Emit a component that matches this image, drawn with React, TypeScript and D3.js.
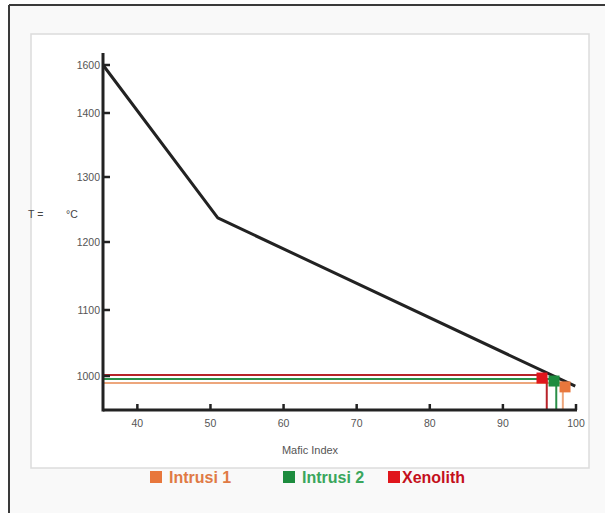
import React from "react";
import * as d3 from "d3";

// ---- data ----
const xTicks = [40, 50, 60, 70, 80, 90, 100];
const yTicks = [1000, 1100, 1200, 1300, 1400, 1600];
// axis is drawn hand-spaced in the original: piecewise breakpoints
const yBreakValues = [950, 1000, 1100, 1200, 1300, 1400, 1600, 1650];
const curveMI = [35.3, 51, 99.9];
const curveT = [1600, 1237, 985];
const sampleNames = ["Intrusi 1", "Intrusi 2", "Xenolith"];
const sampleColors = ["#e8773c", "#1d8c3e", "#e0161c"];
const lineColors = ["#eda67c", "#2a8f48", "#b8232a"];
const legendTextColors = ["#e07a45", "#3aa65c", "#c4101c"];
const readMI = [98.2, 97.3, 96.0];
const readT = [989.7, 995.6, 1001.5];
const markerMI = [98.5, 97.0, 95.35];
const markerT = [984, 992.6, 997];

const W = 605;
const H = 513;

export default function App() {
  const x = d3.scaleLinear().domain([35.3, 100]).range([103, 576]);
  const y = d3
    .scaleLinear()
    .domain(yBreakValues)
    .range([410, 376, 310, 242, 177, 113, 65, 53]);

  const pts: [number, number][] = curveMI.map((m, i) => [m, curveT[i]]);
  const line = d3
    .line<[number, number]>()
    .x((d) => x(d[0]))
    .y((d) => y(d[1]));

  const font = "'Liberation Sans', Arial, sans-serif";
  const y0 = y(950);
  const x0 = x(35.3);
  const legendX = [150, 283, 388];

  return (
    <svg
      width={W}
      height={H}
      style={{ position: "absolute", left: 0, top: 0, background: "#fff" }}
      fontFamily={font}
    >
      {/* outer frame */}
      <rect x={9} y={5} width={W} height={H} fill="#f9f9f9" />
      <line x1={9} y1={5} x2={W} y2={5} stroke="#3a3a3a" strokeWidth={2} />
      <line x1={9} y1={5} x2={9} y2={H} stroke="#3a3a3a" strokeWidth={2} />
      {/* panel */}
      <rect x={31} y={34} width={558} height={434} fill="#ffffff" stroke="#dcdcdc" strokeWidth={1.5} />

      {/* readout lines */}
      {sampleNames.map((n, i) => (
        <g key={"r" + n}>
          <line
            x1={x0}
            x2={x(markerMI[i])}
            y1={y(readT[i])}
            y2={y(readT[i])}
            stroke={lineColors[i]}
            strokeWidth={2}
          />
          <line
            x1={x(readMI[i])}
            x2={x(readMI[i])}
            y1={y(markerT[i])}
            y2={y0}
            stroke={lineColors[i]}
            strokeWidth={2}
          />
        </g>
      ))}

      {/* curve */}
      <path d={line(pts) ?? ""} fill="none" stroke="#222" strokeWidth={3} strokeLinejoin="round" />

      {/* markers */}
      {sampleNames.map((n, i) => (
        <rect
          key={"m" + n}
          x={x(markerMI[i]) - 5.5}
          y={y(markerT[i]) - 5.5}
          width={11}
          height={11}
          fill={sampleColors[i]}
        />
      ))}

      {/* axes */}
      <line x1={x0} x2={x0} y1={y(1650)} y2={y0 + 1.5} stroke="#222" strokeWidth={3} />
      <line x1={x0} x2={x(100) + 1} y1={y0} y2={y0} stroke="#222" strokeWidth={3} />
      {xTicks.map((t) => (
        <g key={"x" + t}>
          <line x1={x(t)} x2={x(t)} y1={y0} y2={y0 - 6} stroke="#222" strokeWidth={2.5} />
          <text x={x(t)} y={y0 + 17} textAnchor="middle" fontSize={10.5} fill="#555">
            {t}
          </text>
        </g>
      ))}
      {yTicks.map((t) => (
        <g key={"y" + t}>
          <line x1={x0} x2={x0 + 7} y1={y(t)} y2={y(t)} stroke="#222" strokeWidth={2.5} />
          <text x={x0 - 3} y={y(t) + 4} textAnchor="end" fontSize={10.5} fill="#555">
            {t}
          </text>
        </g>
      ))}
      <text x={28} y={218} fontSize={10.5} fill="#444">
        T =
      </text>
      <text x={66} y={218} fontSize={10.5} fill="#444">
        °C
      </text>
      <text x={310} y={454} textAnchor="middle" fontSize={11} fill="#555">
        Mafic Index
      </text>

      {/* legend */}
      {sampleNames.map((n, i) => (
        <g key={"l" + n}>
          <rect x={legendX[i]} y={471} width={12} height={12} fill={sampleColors[i]} />
          <text
            x={legendX[i] + (i === 2 ? 14 : 19)}
            y={483}
            fontSize={16}
            fontWeight="bold"
            fill={legendTextColors[i]}
          >
            {n}
          </text>
        </g>
      ))}
    </svg>
  );
}
